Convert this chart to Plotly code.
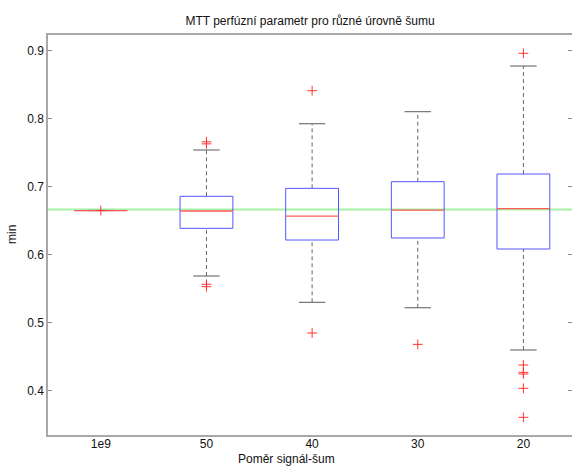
import plotly.graph_objects as go

# ---- data ----
categories = ["1e9", "50", "40", "30", "20"]
q1 = [0.6650, 0.6388, 0.6216, 0.6246, 0.6084]
median = [0.6648, 0.6643, 0.6569, 0.6657, 0.6677]
q3 = [0.6652, 0.6859, 0.6976, 0.7074, 0.7187]
lower_whisker = [0.6648, 0.5687, 0.5300, 0.5220, 0.4599]
upper_whisker = [0.6652, 0.7540, 0.7926, 0.8103, 0.8775]
outliers = [
    [0.6650],
    [0.7660, 0.7630, 0.5565, 0.5530],
    [0.8412, 0.4849],
    [0.4682],
    [0.8962, 0.4378, 0.4270, 0.4246, 0.4035, 0.3609],
]
reference_value = 0.6665
y_ticks = [0.4, 0.5, 0.6, 0.7, 0.8, 0.9]
y_ticklabels = ["0.4", "0.5", "0.6", "0.7", "0.8", "0.9"]

FONT = "Liberation Sans, Arial, sans-serif"
positions = list(range(1, len(categories) + 1))
BW = 0.25   # half box width
CW = 0.125  # half cap width

fig = go.Figure()

# reference line (green)
fig.add_trace(go.Scatter(x=[0.4, 5.6], y=[reference_value, reference_value], mode="lines",
                         line=dict(color="#a6f2a6", width=2), hoverinfo="skip", showlegend=False))

# whiskers (dashed)
wx, wy = [], []
for p, a, b, c, d in zip(positions, lower_whisker, q1, q3, upper_whisker):
    wx += [p, p, None, p, p, None]
    wy += [a, b, None, c, d, None]
fig.add_trace(go.Scatter(x=wx, y=wy, mode="lines",
                         line=dict(color="#666666", width=1, dash="4px,3px"),
                         hoverinfo="skip", showlegend=False))

# caps
cx, cy = [], []
for p, a, d in zip(positions, lower_whisker, upper_whisker):
    cx += [p - CW, p + CW, None, p - CW, p + CW, None]
    cy += [a, a, None, d, d, None]
fig.add_trace(go.Scatter(x=cx, y=cy, mode="lines", line=dict(color="#5a5a5a", width=1),
                         hoverinfo="skip", showlegend=False))

# boxes
bx, by = [], []
for p, a, b in zip(positions, q1, q3):
    bx += [p - BW, p + BW, p + BW, p - BW, p - BW, None]
    by += [a, a, b, b, a, None]
fig.add_trace(go.Scatter(x=bx, y=by, mode="lines", line=dict(color="#5555ff", width=1),
                         hoverinfo="skip", showlegend=False))

# medians
mx, my = [], []
for p, m in zip(positions, median):
    mx += [p - BW, p + BW, None]
    my += [m, m, None]
fig.add_trace(go.Scatter(x=mx, y=my, mode="lines", line=dict(color="#ff5a5a", width=1.3),
                         hoverinfo="skip", showlegend=False))

# outliers
ox, oy = [], []
for p, vals in zip(positions, outliers):
    for v in vals:
        ox.append(p)
        oy.append(v)
fig.add_trace(go.Scatter(x=ox, y=oy, mode="markers",
                         marker=dict(symbol="cross-thin", size=7, line=dict(color="#ff3333", width=1)),
                         hoverinfo="skip", showlegend=False))

# invisible trace for right-side ticks
fig.add_trace(go.Scatter(x=[None], y=[None], yaxis="y2", showlegend=False))

yr = [0.3349, 0.9231]
fig.update_layout(
    width=572, height=467,
    margin=dict(l=48, r=0, t=35, b=32, autoexpand=False),
    paper_bgcolor="white", plot_bgcolor="white",
    font=dict(family=FONT, size=12, color="#111111"),
    title=dict(text="MTT perfúzní parametr pro různé úrovně šumu", x=0.5, xanchor="center",
               xref="paper", y=1 - 20.5 / 467, yref="container", yanchor="middle",
               font=dict(family=FONT, size=12, color="#111111")),
    xaxis=dict(range=[0.5, 5.46], tickvals=positions, ticktext=categories, automargin=False,
               showgrid=False, zeroline=False, showline=True, mirror=True,
               linecolor="#a8a8a8", linewidth=1.5, ticks="", ticklen=0,
               ticklabelstandoff=-3, tickfont=dict(size=12)),
    yaxis=dict(range=yr, tickvals=y_ticks, ticktext=y_ticklabels, automargin=False,
               showgrid=False, zeroline=False, showline=True, linecolor="#a8a8a8", linewidth=1.5,
               ticks="inside", ticklen=4, tickcolor="#888888",
               tickfont=dict(size=12)),
    yaxis2=dict(range=yr, overlaying="y", side="right", tickvals=y_ticks, automargin=False,
                showticklabels=False, ticks="inside", ticklen=4, tickcolor="#888888",
                showgrid=False, zeroline=False, showline=False),
    annotations=[
        dict(text="Poměr signál-šum", xref="paper", yref="paper", x=(286 - 48) / 524,
             y=-(459 - 435) / 400, xanchor="center", yanchor="middle", showarrow=False,
             font=dict(size=12)),
        dict(text="min", xref="paper", yref="paper", x=-(48 - 12) / 524, y=0.5,
             xanchor="center", yanchor="middle", textangle=-90, showarrow=False,
             font=dict(size=12)),
    ],
)

fig.write_html("out.html", config={"displayModeBar": False},
               post_script="document.body.style.margin='0';document.body.style.overflow='hidden';")
